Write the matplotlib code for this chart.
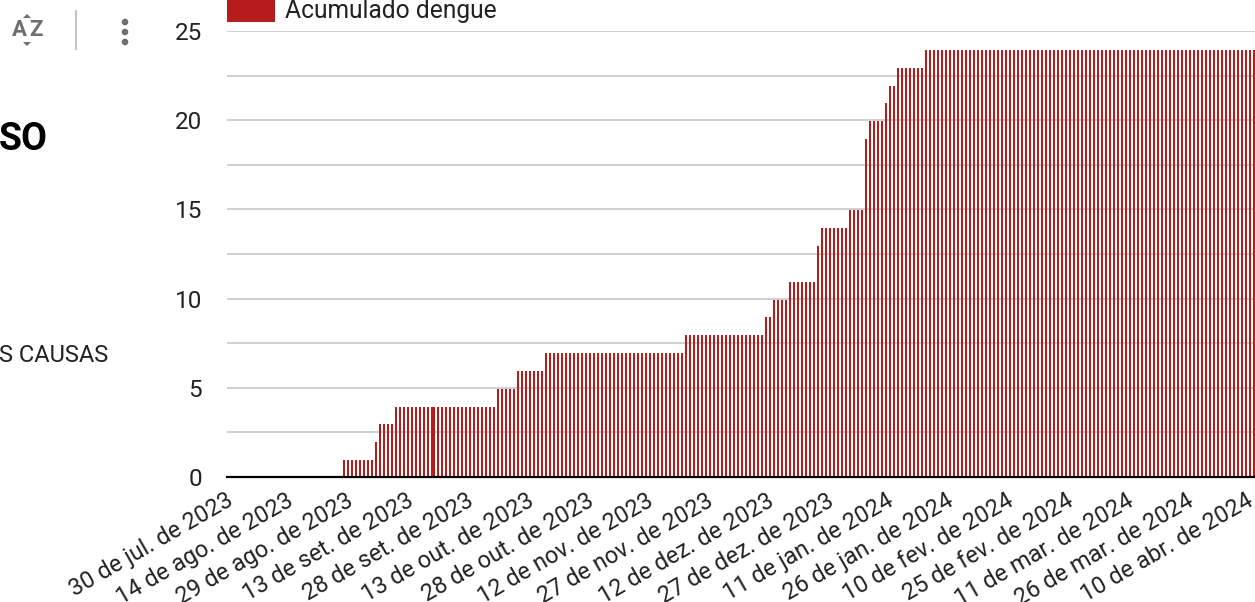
import matplotlib
matplotlib.use("Agg")
import matplotlib.pyplot as plt
import matplotlib.dates as mdates
from matplotlib.patches import Rectangle, Polygon, Circle
from matplotlib.transforms import ScaledTranslation
import pandas as pd

plt.rcParams['font.family'] = ['Roboto', 'DejaVu Sans']

W, H = 1255, 602

# bars up to 19 Sep 2023
valores_a = [0, 0, 0, 0, 0, 0, 0, 0, 0, 0, 0, 0, 0, 0, 0, 0, 0, 0, 0, 0,
             0, 0, 0, 0, 0, 0, 0, 0, 0, 1, 1, 1, 1, 1, 1, 1, 1, 2, 3, 3,
             3, 3, 4, 4, 4, 4, 4, 4, 4, 4, 4, 4]
# from there the source dates run half a day later
valores_b = [4, 4, 4, 4, 4, 4, 4, 4, 4, 4, 4, 4, 4, 4, 4, 4,
             5, 5, 5, 5, 5,
             6, 6, 6, 6, 6, 6, 6,
             7, 7, 7, 7, 7, 7, 7, 7, 7, 7, 7, 7, 7, 7, 7, 7, 7, 7,
             7, 7, 7, 7, 7, 7, 7, 7, 7, 7, 7, 7, 7, 7, 7, 7, 7,
             8, 8, 8, 8, 8, 8, 8, 8, 8, 8, 8, 8, 8, 8, 8, 8, 8, 8, 8, 8,
             9, 9,
             10, 10, 10, 10,
             11, 11, 11, 11, 11, 11, 11,
             13,
             14, 14, 14, 14, 14, 14, 14,
             15, 15, 15, 15,
             19,
             20, 20, 20, 20,
             21,
             22, 22,
             23, 23, 23, 23, 23, 23, 23,
             24, 24, 24, 24, 24, 24, 24, 24, 24, 24, 24, 24, 24, 24, 24, 24, 24, 24, 24, 24,
             24, 24, 24, 24, 24, 24, 24, 24, 24, 24, 24, 24, 24, 24, 24, 24, 24, 24, 24, 24,
             24, 24, 24, 24, 24, 24, 24, 24, 24, 24, 24, 24, 24, 24, 24, 24, 24, 24, 24, 24,
             24, 24, 24, 24, 24, 24, 24, 24, 24, 24, 24, 24, 24, 24, 24, 24, 24, 24, 24, 24,
             24, 24, 24]

tick_datas = ["2023-07-30", "2023-08-14", "2023-08-29", "2023-09-13", "2023-09-28", "2023-10-13",
              "2023-10-28", "2023-11-12", "2023-11-27", "2023-12-12", "2023-12-27", "2024-01-11",
              "2024-01-26", "2024-02-10", "2024-02-25", "2024-03-11", "2024-03-26", "2024-04-10"]
tick_labels = ["30 de jul. de 2023", "14 de ago. de 2023", "29 de ago. de 2023", "13 de set. de 2023",
               "28 de set. de 2023", "13 de out. de 2023", "28 de out. de 2023", "12 de nov. de 2023",
               "27 de nov. de 2023", "12 de dez. de 2023", "27 de dez. de 2023", "11 de jan. de 2024",
               "26 de jan. de 2024", "10 de fev. de 2024", "25 de fev. de 2024", "11 de mar. de 2024",
               "26 de mar. de 2024", "10 de abr. de 2024"]

datas_a = pd.date_range("2023-07-30", periods=len(valores_a))
datas_b = pd.date_range("2023-09-19 12:00", periods=len(valores_b))

COR = "#b71c1c"
TEXTO = "#222222"
FONTE = 17.5

fig = plt.figure(figsize=(W / 100, H / 100), dpi=100)
ax = fig.add_axes([227 / W, 1 - 477 / H, (W - 227) / W, (477 - 31) / H])

barras_a = ax.bar(datas_a, valores_a, width=0.5, align="edge", color=COR, linewidth=0, zorder=3)
barras_b = ax.bar(datas_b, valores_b, width=0.5, align="edge", color=COR, linewidth=0, zorder=3)

# bar tops sit a pixel under the grid in the reference
desce = ax.transData + ScaledTranslation(0, -1 / 100, fig.dpi_scale_trans)
for barra in list(barras_a) + list(barras_b):
    barra.set_transform(desce)

inicio = mdates.date2num(datas_a[0])
ax.set_xlim(inicio, inicio + (W - 227) / 4)
ax.set_ylim(0, 25)

ax.set_yticks([0, 5, 10, 15, 20, 25])
ax.set_yticks([2.5, 7.5, 12.5, 17.5, 22.5], minor=True)
ax.grid(True, axis="y", which="both", color="#cccccc", linewidth=1.3, zorder=1)
ax.set_axisbelow(True)
ax.tick_params(axis="y", which="both", length=0, pad=18, labelsize=FONTE, labelcolor=TEXTO)

ax.set_xticks(mdates.date2num(pd.to_datetime(tick_datas)))
ax.set_xticklabels(tick_labels, rotation=30, ha="right", va="top", rotation_mode="anchor",
                   fontsize=16.9, color=TEXTO)
ax.tick_params(axis="x", length=0, pad=0)
offset = ScaledTranslation(-1 / 100, -12 / 100, fig.dpi_scale_trans)
for lab in ax.get_xticklabels():
    lab.set_transform(lab.get_transform() + offset)

for s in ["top", "left", "right"]:
    ax.spines[s].set_visible(False)
ax.spines["bottom"].set_color("black")
ax.spines["bottom"].set_linewidth(1.6)
ax.spines["bottom"].set_zorder(5)


def px(x, y):
    return x / W, 1 - y / H


# legend, cut by the top of the picture
fig.add_artist(Rectangle(px(227, 22), 48 / W, 22 / H, transform=fig.transFigure, color=COR, linewidth=0))
fig.text(*px(285, 11), "Acumulado dengue", fontsize=17.7, color=TEXTO, va="center", ha="left")

# leftovers of the dashboard around the chart
fig.text(*px(-1, 139), "SO", fontsize=27, fontweight="bold", color="black", va="center", ha="left")
fig.text(*px(-1, 356), "S CAUSAS", fontsize=17, color=TEXTO, va="center", ha="left")

CINZA = "#6e6e6e"
fig.text(*px(19, 30), "A", fontsize=16, fontweight="bold", color=CINZA, va="center", ha="center")
fig.text(*px(36, 30), "Z", fontsize=16, fontweight="bold", color=CINZA, va="center", ha="center")
fig.add_artist(Polygon([px(23, 18), px(31, 18), px(27, 14)], transform=fig.transFigure, color=CINZA, linewidth=0))
fig.add_artist(Polygon([px(23, 42), px(31, 42), px(27, 46)], transform=fig.transFigure, color=CINZA, linewidth=0))
fig.add_artist(Rectangle(px(75, 50), 2 / W, 40 / H, transform=fig.transFigure, color="#c4c4c4", linewidth=0))
for y_ponto in [22, 32, 42]:
    ponto = Circle((125, H - y_ponto), 3.3, transform=None, color=CINZA, linewidth=0)
    fig.add_artist(ponto)

fig.savefig("out.png", dpi=100)
